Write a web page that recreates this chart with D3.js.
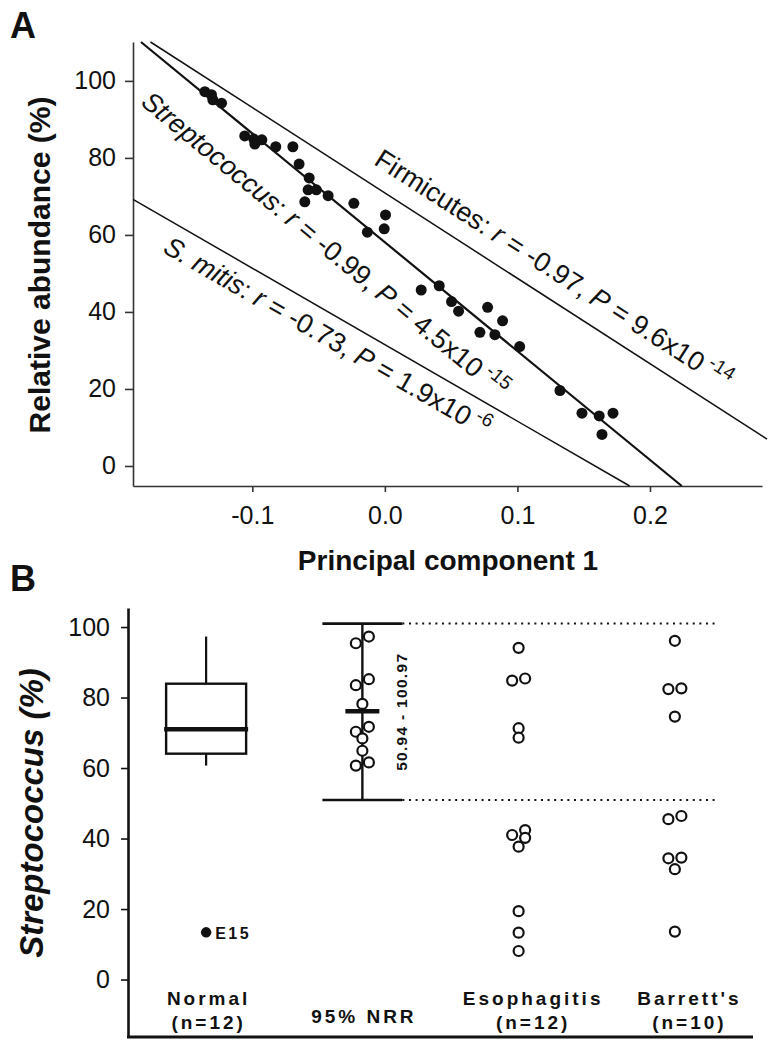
<!DOCTYPE html>
<html><head><meta charset="utf-8">
<script src="https://cdn.jsdelivr.net/npm/d3@7"></script>
<style>
body{margin:0;background:#fff}
svg{display:block}
text{font-family:"Liberation Sans",Arial,Helvetica,sans-serif;white-space:pre;fill:#111}
</style>
</head><body>
<svg id="chart" width="776" height="1050"></svg>
<script>
// ---------------- Panel A data ----------------
const pc1 = [-0.1358,-0.1308,-0.1298,-0.1232,-0.1057,-0.0989,-0.0981,-0.0928,-0.0823,-0.0694,
             -0.0647,-0.0571,-0.0579,-0.0517,-0.0604,-0.0428,-0.0234,-0.0132,0.0005,-0.0005,
             0.0274,0.0410,0.0503,0.0556,0.0775,0.0888,0.0717,0.0830,0.1017,0.1321,
             0.1487,0.1617,0.1721,0.1638];
const abundance = [97.2,96.4,95.1,94.2,85.7,84.9,83.6,84.7,82.9,82.9,
                   78.4,74.8,71.7,71.7,68.6,70.2,68.2,60.7,65.2,61.6,
                   45.7,46.8,42.7,40.2,41.2,37.7,34.7,34.1,31.0,19.6,
                   13.7,13.0,13.7,8.2];
const xTicksA = [-0.1, 0.0, 0.1, 0.2];
const yTicksA = [0, 20, 40, 60, 80, 100];
const fitNames = ["Streptococcus", "Firmicutes", "S. mitis"];
const fitNameItalic = [true, false, true];
const fitSlopes = [-282.6, -221.7, -198.7];
const fitIntercepts = [58.1, 70.9, 31.5];
const fitR = ["-0.99", "-0.97", "-0.73"];
const fitPMantissa = ["4.5", "9.6", "1.9"];
const fitPExponent = ["-15", "-14", "-6"];

// ---------------- Panel B data ----------------
const categories = ["Normal", "95% NRR", "Esophagitis", "Barrett's"];
const categoryN = ["(n=12)", "", "(n=12)", "(n=10)"];
const normalValues = [97.3,95.4,85.2,83.5,78.2,71.7,70.3,68.4,64.9,61.6,60.7,13.4];
const outlierLabel = "E15";
const nrrValues = [97.3,95.4,85.2,83.5,78.2,71.7,70.3,68.4,64.9,61.6,60.7];
const nrrRange = [50.94, 100.97];
const esophagitisValues = [94.1,85.4,84.8,71.3,68.6,42.4,41.0,40.2,37.7,19.4,13.3,8.1];
const barrettValues = [96.1,82.6,82.4,74.6,46.4,45.5,34.6,34.4,31.3,13.6];
const yTicksB = [0, 20, 40, 60, 80, 100];

const svg = d3.select("#chart");
const ink = "#111";

// ================= PANEL A =================
svg.append("text").attr("x", 10).attr("y", 38).attr("font-size", 36).attr("font-weight", "bold").text("A");

const xA = d3.scaleLinear().domain([-0.19, 0.2845]).range([133, 762]);
const yA = d3.scaleLinear().domain([-5.2, 110.1]).range([486, 42]);
const gA = svg.append("g");

const axA_y = gA.append("g").attr("transform", "translate(133,0)")
  .call(d3.axisLeft(yA).tickValues(yTicksA).tickSize(8).tickPadding(9).tickSizeOuter(0).tickFormat(d3.format("d")));
const axA_x = gA.append("g").attr("transform", "translate(0,486)")
  .call(d3.axisBottom(xA).tickValues(xTicksA).tickSize(6).tickPadding(14).tickSizeOuter(0).tickFormat(d => d.toFixed(1)));
[axA_y, axA_x].forEach(a => {
  a.selectAll("path,line").attr("stroke", "#333").attr("stroke-width", 1.6);
  a.selectAll("text").attr("font-size", 25).attr("fill", ink).attr("font-family", "Liberation Sans, Arial, sans-serif");
});

gA.append("text").attr("transform", "translate(50,265) rotate(-90)").attr("text-anchor", "middle")
  .attr("font-size", 30).attr("font-weight", "bold").text("Relative abundance (%)");
gA.append("text").attr("x", 448).attr("y", 570).attr("text-anchor", "middle")
  .attr("font-size", 28).attr("font-weight", "bold").text("Principal component 1");

// fit lines
const xRightEdge = xA.invert(767);
const [yBot, yTop] = yA.domain();
const labelFoot = [-0.1615, -0.0165, -0.1566];
const labelOffset = [49, -18, 31];
const lineWidths = [2.2, 1.5, 1.5];
fitNames.forEach((name, i) => {
  const m = fitSlopes[i], b = fitIntercepts[i];
  const f = x => b + m * x;
  const xs = Math.max(xA.domain()[0], (yTop - b) / m);
  const xe = Math.min(xRightEdge, (yBot - b) / m);
  gA.append("line").attr("x1", xA(xs)).attr("y1", yA(f(xs))).attr("x2", xA(xe)).attr("y2", yA(f(xe)))
    .attr("stroke", ink).attr("stroke-width", lineWidths[i]);
  const ang = Math.atan2(yA(f(xe)) - yA(f(xs)), xA(xe) - xA(xs));
  const fx = xA(labelFoot[i]), fy = yA(f(labelFoot[i]));
  const px = fx - Math.sin(ang) * labelOffset[i], py = fy + Math.cos(ang) * labelOffset[i];
  const t = gA.append("text").attr("transform", `translate(${px},${py}) rotate(${ang * 180 / Math.PI})`)
    .attr("font-size", 27);
  t.append("tspan").attr("font-style", fitNameItalic[i] ? "italic" : "normal").text(name);
  t.append("tspan").text(": ");
  t.append("tspan").attr("font-style", "italic").text("r");
  t.append("tspan").text(` = ${fitR[i]}, `);
  t.append("tspan").attr("font-style", "italic").text("P");
  t.append("tspan").text(` = ${fitPMantissa[i]}x10`);
  t.append("tspan").attr("font-size", 19).attr("dx", 5).attr("dy", -11).text(fitPExponent[i]);
});

// points
gA.append("g").selectAll("circle").data(pc1.map((x, i) => [x, abundance[i]])).join("circle")
  .attr("cx", d => xA(d[0])).attr("cy", d => yA(d[1])).attr("r", 5.5).attr("fill", ink);

// ================= PANEL B =================
svg.append("text").attr("x", 10).attr("y", 591).attr("font-size", 36).attr("font-weight", "bold").text("B");

const xB = d3.scalePoint().domain(categories).range([128, 753]).padding(0.5);
const yB = d3.scaleLinear().domain([-16.3, 105.4]).range([1037, 608]);
const gB = svg.append("g");

const axB_y = gB.append("g").attr("transform", "translate(128,0)")
  .call(d3.axisLeft(yB).tickValues(yTicksB).tickSize(7).tickPadding(11).tickSizeOuter(0).tickFormat(d3.format("d")));
axB_y.selectAll("path").attr("stroke", ink).attr("stroke-width", 2.6);
axB_y.selectAll("line").attr("stroke", ink).attr("stroke-width", 1.6);
axB_y.selectAll("text").attr("font-size", 25).attr("fill", ink).attr("font-family", "Liberation Sans, Arial, sans-serif");
gB.append("line").attr("x1", 127).attr("x2", 753).attr("y1", 1037).attr("y2", 1037)
  .attr("stroke", ink).attr("stroke-width", 3);

gB.append("text").attr("transform", "translate(43,813) rotate(-90)").attr("text-anchor", "middle")
  .attr("font-size", 33).attr("font-weight", "bold").attr("font-style", "italic").text("Streptococcus (%)");

// category labels
const labelShift = [1, 0, 13, 13];
categories.forEach((c, i) => {
  const x = xB(c) + labelShift[i];
  const single = categoryN[i] === "";
  const t = gB.append("text").attr("text-anchor", "middle").attr("font-size", 19).attr("font-weight", "bold")
    .attr("letter-spacing", 3);
  t.append("tspan").attr("x", x + 1.5).attr("y", single ? 1023 : 1005).text(c);
  if (!single) t.append("tspan").attr("x", x + 1.5).attr("y", 1029).text(categoryN[i]);
});

// box plot (Normal)
const sortedN = normalValues.slice().sort(d3.ascending);
const q1 = d3.quantile(sortedN, 0.25), med = d3.quantile(sortedN, 0.5), q3 = d3.quantile(sortedN, 0.75);
const iqr = q3 - q1, lo = q1 - 1.5 * iqr, hi = q3 + 1.5 * iqr;
const inl = sortedN.filter(v => v >= lo && v <= hi);
const outl = sortedN.filter(v => v < lo || v > hi);
const cx = xB("Normal"), bw = 80;
gB.append("line").attr("x1", cx).attr("x2", cx).attr("y1", yB(d3.max(inl))).attr("y2", yB(q3)).attr("stroke", ink).attr("stroke-width", 2.2);
gB.append("line").attr("x1", cx).attr("x2", cx).attr("y1", yB(q1)).attr("y2", yB(d3.min(inl))).attr("stroke", ink).attr("stroke-width", 2.2);
gB.append("rect").attr("x", cx - bw / 2).attr("y", yB(q3)).attr("width", bw).attr("height", yB(q1) - yB(q3))
  .attr("fill", "none").attr("stroke", ink).attr("stroke-width", 2.4);
gB.append("line").attr("x1", cx - bw / 2 - 2).attr("x2", cx + bw / 2 + 2).attr("y1", yB(med)).attr("y2", yB(med))
  .attr("stroke", ink).attr("stroke-width", 4.5);
outl.forEach(v => {
  gB.append("circle").attr("cx", cx).attr("cy", yB(v)).attr("r", 5.2).attr("fill", ink);
  gB.append("text").attr("x", cx + 9).attr("y", yB(v) + 7).attr("font-size", 16).attr("font-weight", "bold")
    .attr("letter-spacing", 2.5).text(outlierLabel);
});

// NRR range
const nx = xB("95% NRR");
gB.append("line").attr("x1", nx).attr("x2", nx).attr("y1", yB(nrrRange[1])).attr("y2", yB(nrrRange[0])).attr("stroke", ink).attr("stroke-width", 2.4);
nrrRange.forEach(v => {
  gB.append("line").attr("x1", nx - 40).attr("x2", nx + 40).attr("y1", yB(v)).attr("y2", yB(v)).attr("stroke", ink).attr("stroke-width", 2.6);
  gB.append("line").attr("x1", nx + 40).attr("x2", xB("Barrett's") + 41).attr("y1", yB(v)).attr("y2", yB(v))
    .attr("stroke", ink).attr("stroke-width", 2).attr("stroke-dasharray", "2,4.6");
});
gB.append("line").attr("x1", nx - 17).attr("x2", nx + 17).attr("y1", yB(d3.mean(nrrValues))).attr("y2", yB(d3.mean(nrrValues)))
  .attr("stroke", ink).attr("stroke-width", 4.5);
gB.append("text").attr("transform", `translate(${nx + 45},${yB(d3.mean(nrrRange))}) rotate(-90)`)
  .attr("text-anchor", "middle").attr("font-size", 15.5).attr("font-weight", "bold").attr("letter-spacing", 1.3)
  .text(`${nrrRange[0].toFixed(2)} - ${nrrRange[1].toFixed(2)}`);

// dodge layout for open circles
function dodge(values, s = 6.5, D = 9) {
  const pts = values.map(v => ({ v, y: yB(v), dx: 0 })).sort((a, b) => a.y - b.y);
  const placed = [];
  const minDist = (p, dx) => d3.min(placed, o => Math.hypot(o.dx - dx, o.y - p.y)) ?? Infinity;
  pts.forEach(p => {
    if (minDist(p, 0) >= D) p.dx = 0;
    else {
      const prev = placed[placed.length - 1];
      if (prev && prev.dx === 0 && Math.abs(prev.y - p.y) < D) { prev.dx = s; p.dx = -s; }
      else p.dx = minDist(p, s) >= minDist(p, -s) ? s : -s;
    }
    placed.push(p);
  });
  return pts;
}
const groups = [["95% NRR", nrrValues], ["Esophagitis", esophagitisValues], ["Barrett's", barrettValues]];
groups.forEach(([c, vals]) => {
  gB.append("g").selectAll("circle").data(dodge(vals)).join("circle")
    .attr("cx", d => xB(c) + d.dx).attr("cy", d => d.y).attr("r", 5)
    .attr("fill", "#fff").attr("stroke", ink).attr("stroke-width", 2.2);
});
</script>
</body></html>
